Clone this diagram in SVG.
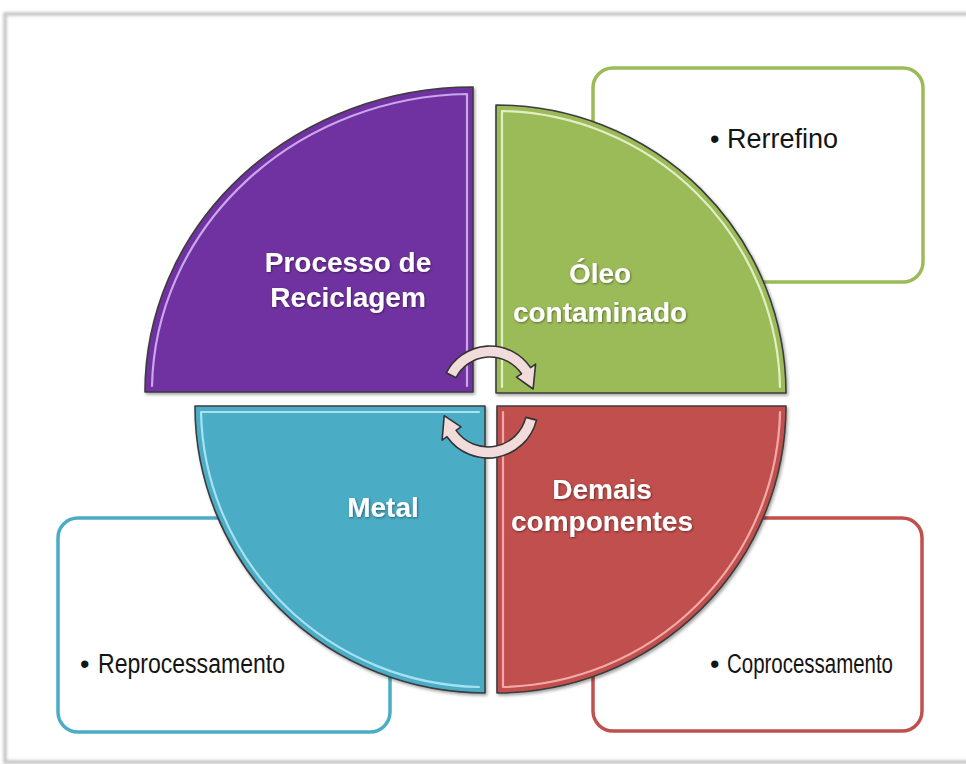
<svg xmlns="http://www.w3.org/2000/svg" width="966" height="764" viewBox="0 0 966 764">
  <style>
    .title { font-family: "Liberation Sans", Arial, sans-serif; font-weight: bold; font-size: 28px; fill: #ffffff; text-anchor: middle; }
    .body { font-family: "Liberation Sans", Arial, sans-serif; font-size: 27px; fill: #141414; }
    .quad { stroke: #3c3c3c; stroke-width: 1.6; stroke-linejoin: round; }
    .hl { fill: none; stroke-width: 2.2; stroke-linejoin: round; stroke-linecap: round; }
    .box { fill: #ffffff; stroke-width: 3.5; }
    .arrow { fill: #f2dcdb; stroke: #333333; stroke-width: 1.6; stroke-linejoin: round; }
  </style>
  <defs>
    <filter id="shadow" x="-10%" y="-10%" width="120%" height="120%">
      <feDropShadow dx="1.5" dy="2" stdDeviation="1.5" flood-color="#000000" flood-opacity="0.35"/>
    </filter>
    <filter id="tshadow" x="-10%" y="-20%" width="120%" height="140%">
      <feDropShadow dx="0.8" dy="1" stdDeviation="0.8" flood-color="#000000" flood-opacity="0.45"/>
    </filter>
    <filter id="frameshadow" x="-5%" y="-5%" width="110%" height="110%">
      <feGaussianBlur stdDeviation="1.5"/>
    </filter>
  </defs>

  <rect x="0" y="0" width="966" height="764" fill="#ffffff"/>
  <!-- frame -->
  <rect x="5" y="14" width="990" height="748" fill="none" stroke="#b8b8b8" stroke-width="3" filter="url(#frameshadow)"/>
  <rect x="5.5" y="14.5" width="990" height="747" fill="none" stroke="#cfcfcf" stroke-width="1"/>

  <!-- outline boxes -->
  <g id="box-rerrefino">
    <rect class="box" x="593" y="68" width="330" height="214" rx="20" ry="20" stroke="#9bbb59"/>
    <text class="body" x="710" y="148">• Rerrefino</text>
  </g>
  <g id="box-reprocessamento">
    <rect class="box" x="58" y="518" width="332" height="214" rx="20" ry="20" stroke="#4bacc6"/>
    <text class="body" x="80" y="673">•</text>
    <text class="body" x="98" y="673" textLength="187" lengthAdjust="spacingAndGlyphs">Reprocessamento</text>
  </g>
  <g id="box-coprocessamento">
    <rect class="box" x="593" y="518" width="329" height="213" rx="20" ry="20" stroke="#c0504d"/>
    <text class="body" x="710" y="673">•</text>
    <text class="body" x="727" y="673" textLength="166" lengthAdjust="spacingAndGlyphs">Coprocessamento</text>
  </g>

  <!-- quadrants -->
  <g id="node-processo">
    <path class="quad" filter="url(#shadow)" fill="#7030a0" d="M145,392 A328,305 0 0 1 473,87 L473,392 Z"/>
    <path class="hl" stroke="#caa6ea" d="M152,386 A321,298 0 0 1 467,94 L467,386"/>
    <text class="title" filter="url(#tshadow)" x="348" y="272">Processo de</text>
    <text class="title" filter="url(#tshadow)" x="348" y="307">Reciclagem</text>
  </g>
  <g id="node-oleo">
    <path class="quad" filter="url(#shadow)" fill="#9bbb59" d="M496,105 A290,288 0 0 1 786,393 L496,393 Z"/>
    <path class="hl" stroke="#e2efc6" d="M502,387 L502,111 A284,282 0 0 1 780,387"/>
    <text class="title" filter="url(#tshadow)" x="600" y="283">Óleo</text>
    <text class="title" filter="url(#tshadow)" x="600" y="322">contaminado</text>
  </g>
  <g id="node-demais">
    <path class="quad" filter="url(#shadow)" fill="#c0504d" d="M497,406 L786,406 A289,287 0 0 1 497,693 Z"/>
    <path class="hl" stroke="#f2aaa8" d="M503,687 L503,412 M780,412 A283,281 0 0 1 503,687"/>
    <text class="title" filter="url(#tshadow)" x="602" y="499">Demais</text>
    <text class="title" filter="url(#tshadow)" x="602" y="531">componentes</text>
  </g>
  <g id="node-metal">
    <path class="quad" filter="url(#shadow)" fill="#4bacc6" d="M485,406 L485,693 A290,287 0 0 1 195,406 Z"/>
    <path class="hl" stroke="#a6e2f2" d="M479,687 A284,281 0 0 1 201,412 L479,412"/>
    <text class="title" filter="url(#tshadow)" x="383" y="517">Metal</text>
  </g>

  <!-- cycle arrows -->
  <g id="connectors">
    <path class="arrow" d="M446.3,372.8 A49,49 0 0 1 530.6,367.6 L535.6,364.2 L533.1,389.0 L516.5,377.1 L521.5,373.8 A38,38 0 0 0 456.1,377.7 Z"/>
    <path class="arrow" d="M536.5,420.1 A50,50 0 0 1 447.0,436.7 L442.1,440.1 L444.2,415.7 L461.0,426.9 L456.1,430.4 A39,39 0 0 0 525.8,417.4 Z"/>
  </g>
</svg>
